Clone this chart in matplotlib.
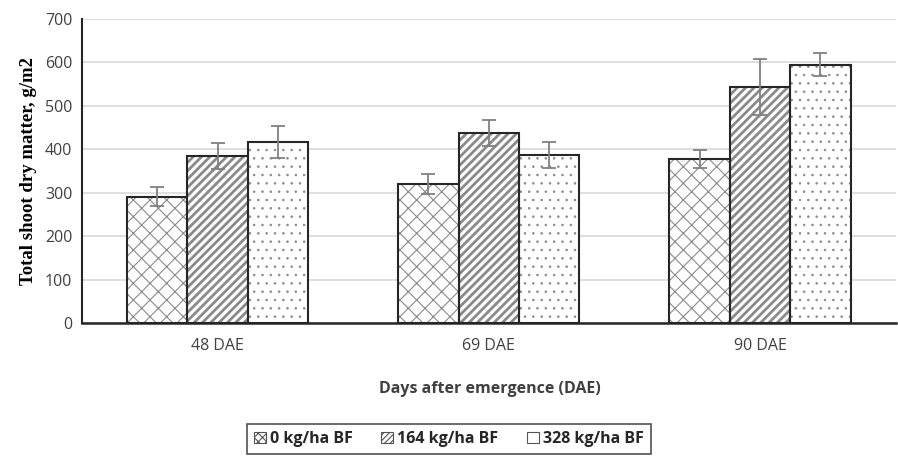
import matplotlib
matplotlib.use("Agg")
import matplotlib.pyplot as plt
import numpy as np
from matplotlib.patches import Patch

categories = ["48 DAE", "69 DAE", "90 DAE"]
series_names = ["0 kg/ha BF", "164 kg/ha BF", "328 kg/ha BF"]
vals_0 = [291, 321, 377]
vals_164 = [384, 437, 543]
vals_328 = [417, 387, 595]
err_0 = [22, 23, 21]
err_164 = [30, 30, 64]
err_328 = [37, 29, 26]

values = [vals_0, vals_164, vals_328]
errors = [err_0, err_164, err_328]
hatches = ["xx", "////", ".."]
hatch_lw = [0.8, 2.0, 0.6]

fig = plt.figure(figsize=(8.98, 4.58), dpi=100)
ax = fig.add_axes([0.0913, 0.2948, 0.906, 0.6637])

x = np.arange(len(categories))
w = 0.223
for i in range(3):
    pos = x + (i - 1) * w
    plt.rcParams['hatch.linewidth'] = hatch_lw[i]
    ax.bar(pos, values[i], width=w, color="white", edgecolor="#8a8a8a",
           hatch=hatches[i], linewidth=0, zorder=2)
    ax.bar(pos, values[i], width=w, color="none", edgecolor="#262626",
           linewidth=1.5, zorder=3)
    ax.errorbar(pos, values[i], yerr=errors[i], fmt="none", ecolor="#808080",
                elinewidth=1.3, capsize=5, capthick=1.3, zorder=4)

ax.set_xlim(-0.5, 2.5)
ax.set_ylim(0, 700)
ax.set_yticks(np.arange(0, 701, 100))
ax.set_xticks(x)
ax.set_xticklabels(categories, fontfamily="Open Sans", fontsize=11.5, color="#404040")
for lab in ax.get_yticklabels():
    lab.set_fontfamily("Open Sans")
    lab.set_fontsize(11.5)
    lab.set_color("#404040")
ax.tick_params(axis="both", length=0, pad=7)
ax.tick_params(axis="x", pad=11)
ax.grid(axis="y", color="#d9d9d9", linewidth=1.2, zorder=0)
ax.set_axisbelow(True)
for s in ["top", "right"]:
    ax.spines[s].set_visible(False)
ax.spines["left"].set_color("#262626")
ax.spines["left"].set_linewidth(1.5)
ax.spines["bottom"].set_color("#262626")
ax.spines["bottom"].set_linewidth(1.8)

ax.set_ylabel("Total shoot dry matter, g/m2", fontfamily="Liberation Serif",
              fontweight="bold", fontsize=13.5, labelpad=6)
fig.text(0.546, 0.150, "Days after emergence (DAE)", ha="center", va="center",
         fontfamily="Open Sans", fontweight="bold", fontsize=11.5, color="#404040")

plt.rcParams['hatch.linewidth'] = 0.8
legend_hatches = ["xxxx", "//////", ""]
handles = [Patch(facecolor="white", edgecolor="#555555", hatch=legend_hatches[i], linewidth=0.8)
           for i in range(3)]
leg = fig.legend(handles, series_names, loc="center", bbox_to_anchor=(0.5, 0.0415),
                 ncol=3, frameon=True, fancybox=False, edgecolor="#262626",
                 prop={"family": "Open Sans", "weight": "bold", "size": 11.5},
                 handlelength=0.75, handleheight=0.75, handletextpad=0.25,
                 columnspacing=1.8, borderpad=0.45)
leg.get_frame().set_linewidth(1.2)
for t in leg.get_texts():
    t.set_color("#262626")

fig.savefig("out.png", dpi=100)
